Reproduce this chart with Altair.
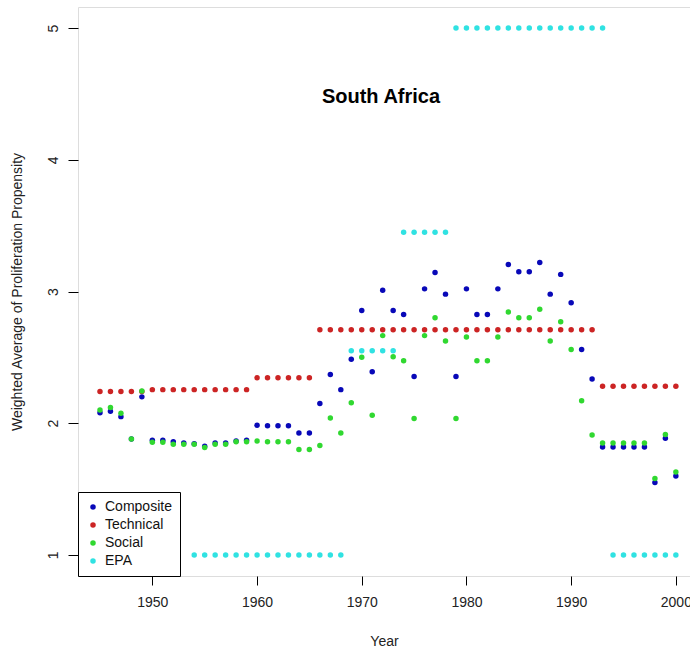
import altair as alt
import pandas as pd

years = list(range(1945, 2001))

composite = [2.08, 2.09, 2.05, 1.88, 2.20, 1.87, 1.87, 1.86, 1.85, 1.845,
             1.825, 1.85, 1.85, 1.865, 1.87, 1.985, 1.98, 1.98, 1.98, 1.925,
             1.925, 2.15, 2.37, 2.255, 2.485, 2.855, 2.39, 3.01, 2.855, 2.825,
             2.355, 3.02, 3.145, 2.98, 2.355, 3.02, 2.825, 2.825, 3.02, 3.205,
             3.15, 3.15, 3.22, 2.98, 3.13, 2.915, 2.56, 2.335, 1.82, 1.82,
             1.82, 1.82, 1.82, 1.55, 1.885, 1.60]

technical = [2.24, 2.24, 2.24, 2.24, 2.24, 2.255, 2.255, 2.255, 2.255, 2.255,
             2.255, 2.255, 2.255, 2.255, 2.255, 2.345, 2.345, 2.345, 2.345, 2.345,
             2.345, 2.71, 2.71, 2.71, 2.71, 2.71, 2.71, 2.71, 2.71, 2.71,
             2.71, 2.71, 2.71, 2.71, 2.71, 2.71, 2.71, 2.71, 2.71, 2.71,
             2.71, 2.71, 2.71, 2.71, 2.71, 2.71, 2.71, 2.71, 2.28, 2.28,
             2.28, 2.28, 2.28, 2.28, 2.28, 2.28]

social = [2.10, 2.12, 2.075, 1.88, 2.245, 1.855, 1.855, 1.84, 1.84, 1.84,
          1.815, 1.84, 1.84, 1.86, 1.86, 1.865, 1.86, 1.86, 1.86, 1.80,
          1.80, 1.83, 2.04, 1.925, 2.155, 2.50, 2.06, 2.665, 2.505, 2.475,
          2.035, 2.665, 2.80, 2.625, 2.035, 2.655, 2.475, 2.475, 2.655, 2.845,
          2.80, 2.80, 2.865, 2.625, 2.77, 2.56, 2.17, 1.91, 1.85, 1.85,
          1.85, 1.85, 1.85, 1.58, 1.915, 1.63]

epa_years = list(range(1954, 2001))
epa = [1.0, 1.0, 1.0, 1.0, 1.0, 1.0, 1.0, 1.0, 1.0, 1.0,
       1.0, 1.0, 1.0, 1.0, 1.0, 2.55, 2.55, 2.55, 2.55, 2.55,
       3.45, 3.45, 3.45, 3.45, 3.45, 5.0, 5.0, 5.0, 5.0, 5.0,
       5.0, 5.0, 5.0, 5.0, 5.0, 5.0, 5.0, 5.0, 5.0, 5.0,
       1.0, 1.0, 1.0, 1.0, 1.0, 1.0, 1.0]

series_names = ["Composite", "Technical", "Social", "EPA"]
series_colors = ["#0808B8", "#CC2424", "#30D830", "#30E2E2"]

rows = []
for name, ys, vals in [("Composite", years, composite),
                       ("Technical", years, technical),
                       ("Social", years, social),
                       ("EPA", epa_years, epa)]:
    for yr, v in zip(ys, vals):
        rows.append({"Year": yr, "Value": v, "Series": name})
df = pd.DataFrame(rows)

FONT = "Liberation Sans"

chart = alt.Chart(df).mark_circle(size=30, opacity=1).encode(
    x=alt.X("Year:Q",
            scale=alt.Scale(domain=[1942.9, 2001.35], nice=False, zero=False),
            axis=alt.Axis(values=[1950, 1960, 1970, 1980, 1990, 2000],
                          format="d", title="Year", domain=False,
                          tickSize=9, tickColor="#000", labelPadding=10,
                          labelFontSize=14, labelFont=FONT, labelColor="#222",
                          titleFontSize=14, titleFont=FONT, titleColor="#222",
                          titleFontWeight="normal", titlePadding=25,
                          grid=False, labelFlush=False, labelOverlap=False)),
    y=alt.Y("Value:Q",
            scale=alt.Scale(domain=[0.84, 5.16], nice=False, zero=False),
            axis=alt.Axis(values=[1, 2, 3, 4, 5], format="d",
                          title="Weighted Average of Proliferation Propensity",
                          domain=False, tickSize=10, tickColor="#000",
                          labelAngle=270, labelAlign="center",
                          labelBaseline="alphabetic", labelPadding=11,
                          labelFontSize=14, labelFont=FONT, labelColor="#222",
                          titleFontSize=14, titleFont=FONT, titleColor="#222",
                          titleFontWeight="normal", titlePadding=22,
                          grid=False, labelFlush=False)),
    color=alt.Color("Series:N",
                    scale=alt.Scale(domain=series_names, range=series_colors),
                    legend=alt.Legend(title=None, orient="bottom-left", offset=0,
                                      fillColor="white", strokeColor="#000",
                                      padding=8, labelFont=FONT, labelFontSize=14,
                                      labelColor="#111", labelOffset=5,
                                      symbolType="circle", symbolSize=30,
                                      symbolStrokeWidth=0, symbolOpacity=1,
                                      rowPadding=4, cornerRadius=0)),
).properties(
    width=612,
    height=569,
    title=alt.TitleParams(text="South Africa", font=FONT, fontSize=20,
                          fontWeight="bold", color="#000", anchor="middle",
                          baseline="middle", offset=-110, dx=-3),
    padding={"left": 78, "top": 7, "right": 0, "bottom": 73},
    autosize=alt.AutoSizeParams(type="none"),
).configure_view(
    stroke="#000", strokeWidth=1
).configure(background="white")

chart.save("out.html", embed_options={"renderer": "svg", "actions": False})
